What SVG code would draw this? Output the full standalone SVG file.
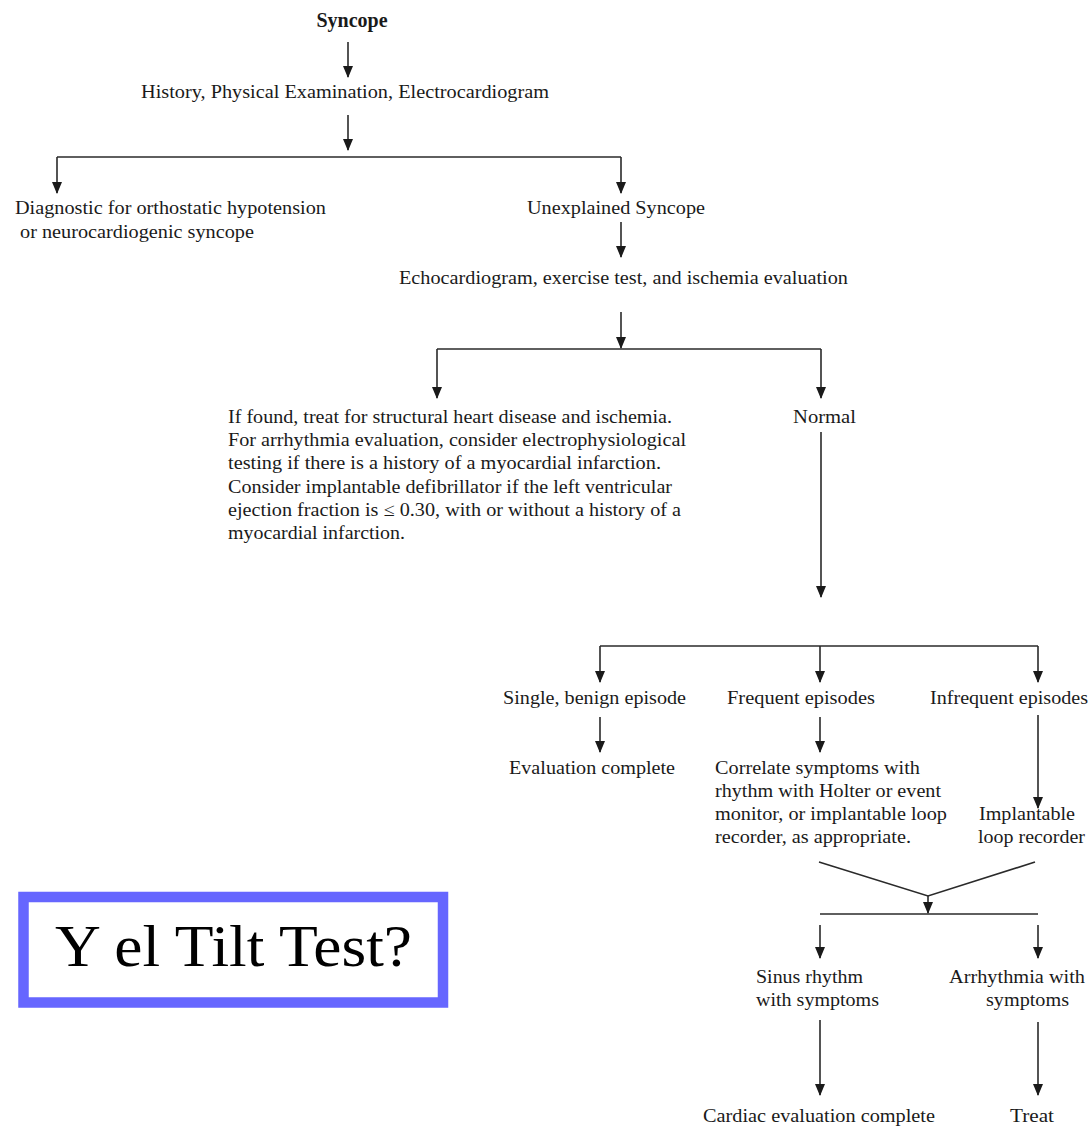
<svg xmlns="http://www.w3.org/2000/svg" width="1092" height="1127" viewBox="0 0 1092 1127">
<style>
text{font-family:"Liberation Serif","Times New Roman",serif;fill:#1a1a1a;font-size:18.5px}
.b{font-weight:bold;font-size:20px}
.c{text-anchor:middle}
.ln{stroke:#2a2a2a;stroke-width:1.6;fill:none}
.ar{stroke:#2a2a2a;stroke-width:1.6;fill:none;marker-end:url(#ah)}
.tilt{font-size:60px;fill:#000}
</style>
<defs>
<marker id="ah" markerUnits="userSpaceOnUse" markerWidth="12" markerHeight="10" refX="11" refY="5" orient="auto" viewBox="0 0 12 10">
<path d="M0,0 L12,5 L0,10 z" fill="#1a1a1a"/>
</marker>
</defs>
<rect width="1092" height="1127" fill="#fff"/>
<g id="connectors">
<line class="ar" x1="348" y1="42" x2="348" y2="77"/>
<line class="ar" x1="348" y1="115" x2="348" y2="150"/>
<polyline class="ln" points="57,157 621,157"/>
<line class="ar" x1="57" y1="157" x2="57" y2="193"/>
<line class="ar" x1="621" y1="157" x2="621" y2="193"/>
<line class="ar" x1="621" y1="222" x2="621" y2="257"/>
<line class="ar" x1="621" y1="312" x2="621" y2="348"/>
<polyline class="ln" points="437,349 821,349"/>
<line class="ar" x1="437" y1="349" x2="437" y2="398"/>
<line class="ar" x1="821" y1="349" x2="821" y2="398"/>
<line class="ar" x1="821" y1="432" x2="821" y2="597"/>
<polyline class="ln" points="600,646 1038,646"/>
<line class="ar" x1="600" y1="646" x2="600" y2="682"/>
<line class="ar" x1="820" y1="646" x2="820" y2="682"/>
<line class="ar" x1="1038" y1="646" x2="1038" y2="682"/>
<line class="ar" x1="600" y1="717" x2="600" y2="752"/>
<line class="ar" x1="820" y1="717" x2="820" y2="752"/>
<line class="ar" x1="1038" y1="715" x2="1038" y2="808"/>
<polyline class="ln" points="819,862 928,896 1035,862"/>
<line class="ar" x1="928" y1="896" x2="928" y2="913"/>
<polyline class="ln" points="820,914 1038,914"/>
<line class="ar" x1="820" y1="925" x2="820" y2="958"/>
<line class="ar" x1="1038" y1="925" x2="1038" y2="958"/>
<line class="ar" x1="820" y1="1020" x2="820" y2="1095"/>
<line class="ar" x1="1038" y1="1022" x2="1038" y2="1095"/>
</g>
<g id="n-syncope"><text class="b c" x="352" y="27">Syncope</text></g>
<g id="n-history"><text x="141" y="98" textLength="408" lengthAdjust="spacingAndGlyphs">History, Physical Examination, Electrocardiogram</text></g>
<g id="n-diagnostic">
<text x="15" y="214" textLength="311" lengthAdjust="spacingAndGlyphs">Diagnostic for orthostatic hypotension</text>
<text x="20" y="238" textLength="234" lengthAdjust="spacingAndGlyphs">or neurocardiogenic syncope</text>
</g>
<g id="n-unexplained"><text x="527" y="214" textLength="178" lengthAdjust="spacingAndGlyphs">Unexplained Syncope</text></g>
<g id="n-echo"><text x="399" y="284" textLength="449" lengthAdjust="spacingAndGlyphs">Echocardiogram, exercise test, and ischemia evaluation</text></g>
<g id="n-found">
<text x="228" y="423" textLength="444" lengthAdjust="spacingAndGlyphs">If found, treat for structural heart disease and ischemia.</text>
<text x="228" y="446" textLength="458" lengthAdjust="spacingAndGlyphs">For arrhythmia evaluation, consider electrophysiological</text>
<text x="228" y="469" textLength="433" lengthAdjust="spacingAndGlyphs">testing if there is a history of a myocardial infarction.</text>
<text x="228" y="493" textLength="444" lengthAdjust="spacingAndGlyphs">Consider implantable defibrillator if the left ventricular</text>
<text x="228" y="516" textLength="453" lengthAdjust="spacingAndGlyphs">ejection fraction is ≤ 0.30, with or without a history of a</text>
<text x="228" y="539" textLength="177" lengthAdjust="spacingAndGlyphs">myocardial infarction.</text>
</g>
<g id="n-normal"><text x="793" y="423" textLength="63" lengthAdjust="spacingAndGlyphs">Normal</text></g>
<g id="n-single"><text x="503" y="704" textLength="183" lengthAdjust="spacingAndGlyphs">Single, benign episode</text></g>
<g id="n-frequent"><text x="727" y="704" textLength="148" lengthAdjust="spacingAndGlyphs">Frequent episodes</text></g>
<g id="n-infrequent"><text x="930" y="704" textLength="158" lengthAdjust="spacingAndGlyphs">Infrequent episodes</text></g>
<g id="n-evalcomplete"><text x="509" y="774" textLength="166" lengthAdjust="spacingAndGlyphs">Evaluation complete</text></g>
<g id="n-correlate">
<text x="715" y="774" textLength="205" lengthAdjust="spacingAndGlyphs">Correlate symptoms with</text>
<text x="715" y="797" textLength="226" lengthAdjust="spacingAndGlyphs">rhythm with Holter or event</text>
<text x="715" y="820" textLength="232" lengthAdjust="spacingAndGlyphs">monitor, or implantable loop</text>
<text x="715" y="843" textLength="196" lengthAdjust="spacingAndGlyphs">recorder, as appropriate.</text>
</g>
<g id="n-implantable">
<text x="979" y="820" textLength="96" lengthAdjust="spacingAndGlyphs">Implantable</text>
<text x="978" y="843" textLength="107" lengthAdjust="spacingAndGlyphs">loop recorder</text>
</g>
<g id="n-sinus">
<text x="756" y="983" textLength="107" lengthAdjust="spacingAndGlyphs">Sinus rhythm</text>
<text x="756" y="1006" textLength="123" lengthAdjust="spacingAndGlyphs">with symptoms</text>
</g>
<g id="n-arrhythmia">
<text x="949" y="983" textLength="136" lengthAdjust="spacingAndGlyphs">Arrhythmia with</text>
<text x="986" y="1006" textLength="83" lengthAdjust="spacingAndGlyphs">symptoms</text>
</g>
<g id="n-cardiac"><text x="703" y="1122" textLength="232" lengthAdjust="spacingAndGlyphs">Cardiac evaluation complete</text></g>
<g id="n-treat"><text x="1010" y="1122" textLength="44" lengthAdjust="spacingAndGlyphs">Treat</text></g>
<g id="n-tilt">
<rect x="23.5" y="897" width="419.5" height="105.5" fill="#fff" stroke="#6666ff" stroke-width="10.5"/>
<text class="tilt" x="55" y="966" textLength="357" lengthAdjust="spacingAndGlyphs">Y el Tilt Test?</text>
</g>
</svg>
